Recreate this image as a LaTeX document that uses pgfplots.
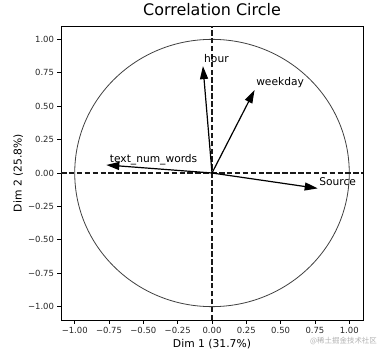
\documentclass[border=0pt]{standalone}
\usepackage{fontspec}
\setmainfont{DejaVu Sans}
\newfontfamily\cjk{Noto Sans CJK SC}
\usepackage{pgfplots}
\pgfplotsset{compat=1.18}
\usetikzlibrary{arrows.meta}
\begin{document}
\begin{tikzpicture}
\path[use as bounding box] (-61bp,-33bp) rectangle (329bp,320bp);
\begin{axis}[
  at={(0,0)}, anchor=south west,
  width=302bp, height=294bp, scale only axis,
  xmin=-1.1, xmax=1.1, ymin=-1.1, ymax=1.1,
  axis line style={black, line width=0.8bp},
  tick align=outside, xtick pos=bottom, ytick pos=left,
  major tick length=3.5bp,
  tick style={black, line width=0.8bp},
  xtick={-1,-0.75,-0.5,-0.25,0,0.25,0.5,0.75,1},
  ytick={-1,-0.75,-0.5,-0.25,0,0.25,0.5,0.75,1},
  xticklabels={−1.00,−0.75,−0.50,−0.25,0.00,0.25,0.50,0.75,1.00},
  yticklabels={−1.00,−0.75,−0.50,−0.25,0.00,0.25,0.50,0.75,1.00},
  tick label style={font=\fontsize{8.5}{9}\selectfont, text=black!85},
  title={Correlation Circle},
  title style={font=\fontsize{16}{18}\selectfont, at={(axis description cs:0.5,1.017)}, anchor=base},
  xlabel={Dim 1 (31.7\%)},
  ylabel={Dim 2 (25.8\%)},
  label style={font=\fontsize{10.8}{12}\selectfont},
  xlabel style={at={(axis description cs:0.5,-0.092)}, anchor=base},
  ylabel style={at={(axis description cs:-0.13,0.5)}, anchor=base},
  clip=false,
]
% unit circle
\draw[black!75, line width=0.8bp] (axis cs:0,0) ellipse [x radius=1, y radius=1];
% dashed axes
\addplot[black!90, line width=1.1bp, dash pattern=on 5.5bp off 2.4bp] coordinates {(-1.1,0) (1.1,0)};
\addplot[black!90, line width=1.1bp, dash pattern=on 5.5bp off 2.4bp] coordinates {(0,-1.1) (0,1.1)};
% arrows
\addplot[black, line width=1.2bp, -{Triangle[length=13bp,width=8bp]}] coordinates {(0,0) (-0.066,0.80)};
\addplot[black, line width=1.2bp, -{Triangle[length=13bp,width=8bp]}] coordinates {(0,0) (0.31,0.62)};
\addplot[black, line width=1.2bp, -{Triangle[length=13bp,width=8bp]}] coordinates {(0,0) (-0.77,0.06)};
\addplot[black, line width=1.2bp, -{Triangle[length=13bp,width=8bp]}] coordinates {(0,0) (0.77,-0.115)};
% labels
\node[anchor=base west, inner sep=0pt, font=\fontsize{10.7}{12}\selectfont] at (axis cs:-0.058,0.824) {hour};
\node[anchor=base west, inner sep=0pt, font=\fontsize{10.7}{12}\selectfont] at (axis cs:0.321,0.652) {weekday};
\node[anchor=base west, inner sep=0pt, font=\fontsize{10.7}{12}\selectfont] at (axis cs:-0.745,0.082) {text\_num\_words};
\node[anchor=base west, inner sep=0pt, font=\fontsize{10.7}{12}\selectfont] at (axis cs:0.781,-0.09) {Source};
\end{axis}
\node[inner sep=0pt, text=black!30, font=\cjk\fontsize{7.5}{8}\selectfont] at (282.5bp,-20.5bp) {@稀土掘金技术社区};
\end{tikzpicture}
\end{document}
